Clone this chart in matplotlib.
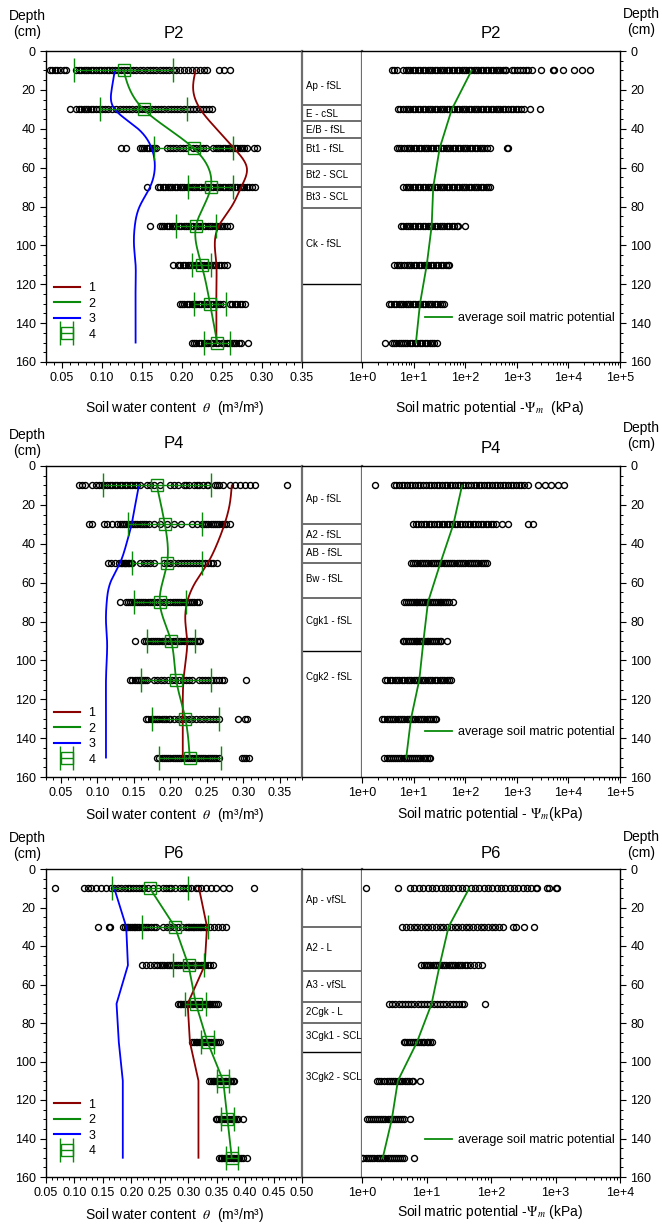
import numpy as np
import matplotlib
matplotlib.use("Agg")
import matplotlib.pyplot as plt
from matplotlib.ticker import MultipleLocator, LogLocator, FuncFormatter, NullFormatter, FormatStrFormatter
from matplotlib.lines import Line2D

plt.rcParams['font.family'] = ['Liberation Sans', 'DejaVu Sans']
plt.rcParams['mathtext.fontset'] = 'stix'

# ---------------------------------------------------------------- data
depths = [10, 30, 50, 70, 90, 110, 130, 150]
fine_depths = [10, 20, 30, 40, 50, 60, 70, 80, 90, 100, 110, 120, 130, 140, 150]

# ---- P2
p2_theta_obs = [
    [0.035, 0.038, 0.041, 0.044, 0.048, 0.052, 0.055, 0.068, 0.071, 0.074, 0.077, 0.080, 0.083, 0.086,
     0.089, 0.092, 0.096, 0.099, 0.102, 0.106, 0.109, 0.113, 0.116, 0.120, 0.124, 0.128, 0.131, 0.135,
     0.139, 0.143, 0.147, 0.151, 0.156, 0.160, 0.164, 0.168, 0.172, 0.176, 0.180, 0.184, 0.189, 0.193,
     0.198, 0.203, 0.208, 0.213, 0.218, 0.223, 0.227, 0.231, 0.246, 0.253, 0.260],
    [0.060, 0.068, 0.071, 0.074, 0.077, 0.080, 0.083, 0.086, 0.089, 0.092, 0.096, 0.100, 0.104, 0.108,
     0.113, 0.118, 0.122, 0.126, 0.130, 0.134, 0.138, 0.142, 0.146, 0.150, 0.154, 0.158, 0.162, 0.166,
     0.170, 0.174, 0.178, 0.182, 0.186, 0.190, 0.194, 0.198, 0.202, 0.206, 0.210, 0.214, 0.218, 0.222,
     0.226, 0.230, 0.234, 0.237],
    [0.124, 0.130, 0.147, 0.150, 0.153, 0.156, 0.159, 0.162, 0.165, 0.168, 0.181, 0.185, 0.189, 0.193,
     0.197, 0.201, 0.205, 0.214, 0.218, 0.222, 0.226, 0.230, 0.239, 0.242, 0.245, 0.248, 0.251, 0.254,
     0.257, 0.260, 0.263, 0.266, 0.269, 0.272, 0.275, 0.278, 0.281, 0.290, 0.294],
    [0.156, 0.170, 0.173, 0.176, 0.179, 0.182, 0.185, 0.188, 0.191, 0.194, 0.197, 0.200, 0.203, 0.206,
     0.209, 0.212, 0.215, 0.218, 0.221, 0.224, 0.227, 0.230, 0.233, 0.236, 0.239, 0.242, 0.245, 0.248,
     0.251, 0.254, 0.257, 0.260, 0.263, 0.266, 0.269, 0.272, 0.275, 0.278, 0.281, 0.284, 0.287, 0.291],
    [0.160, 0.172, 0.175, 0.178, 0.181, 0.184, 0.187, 0.190, 0.193, 0.196, 0.199, 0.202, 0.205, 0.208,
     0.211, 0.214, 0.217, 0.220, 0.223, 0.226, 0.229, 0.232, 0.235, 0.238, 0.241, 0.244, 0.247, 0.250,
     0.253, 0.256, 0.260],
    [0.189, 0.195, 0.198, 0.201, 0.204, 0.207, 0.210, 0.213, 0.216, 0.219, 0.222, 0.225, 0.228, 0.231,
     0.234, 0.237, 0.240, 0.243, 0.246, 0.249, 0.252, 0.256],
    [0.197, 0.200, 0.203, 0.206, 0.209, 0.212, 0.215, 0.218, 0.221, 0.224, 0.227, 0.230, 0.233, 0.236,
     0.239, 0.242, 0.245, 0.248, 0.251, 0.260, 0.263, 0.266, 0.269, 0.272, 0.275, 0.279],
    [0.212, 0.215, 0.218, 0.221, 0.224, 0.227, 0.230, 0.233, 0.236, 0.239, 0.242, 0.245, 0.250, 0.253,
     0.256, 0.259, 0.262, 0.265, 0.268, 0.271, 0.274, 0.283],
]
p2_theta_mean = [0.127, 0.152, 0.2145, 0.236, 0.2175, 0.2245, 0.235, 0.244]
p2_theta_sd = [0.062, 0.054, 0.0495, 0.028, 0.0255, 0.0115, 0.020, 0.016]
p2_curve1 = [0.217, 0.214, 0.223, 0.243, 0.265, 0.281, 0.274, 0.262, 0.246, 0.241, 0.243, 0.243, 0.243, 0.243, 0.243]
p2_curve3 = [0.116, 0.112, 0.116, 0.145, 0.162, 0.166, 0.160, 0.147, 0.141, 0.140, 0.142, 0.142, 0.142, 0.142, 0.142]
p2_psi_obs = [
    [3.8, 4.2, 4.7, 6.3, 7.0, 7.8, 8.7, 9.7, 10.8, 12, 13.4, 15, 16.7, 18.6, 20.7, 23, 25.7, 28.6, 32,
     35.6, 39.7, 44, 49, 55, 61, 68, 76, 85, 94, 105, 117, 131, 146, 162, 181, 202, 225, 250, 280, 310,
     350, 390, 430, 480, 540, 600, 630, 800, 900, 1000, 1150, 1300, 1500, 1650, 1950, 3000, 5100, 5200,
     7900, 12600, 18000, 26300],
    [5.0, 5.5, 6.2, 7.0, 7.8, 8.7, 9.7, 10.8, 12, 13.4, 15, 16.7, 18.6, 20.7, 23, 25.7, 28.6, 32, 35.6,
     39.7, 44, 49, 55, 61, 68, 76, 85, 94, 105, 117, 131, 146, 162, 181, 202, 225, 250, 280, 310, 350,
     390, 430, 480, 540, 600, 680, 760, 850, 950, 1060, 1200, 1350, 1820, 2820],
    [4.7, 5.2, 5.8, 6.5, 7.3, 8.1, 9.0, 10, 11.2, 12.5, 14, 15.6, 17.4, 19.4, 21.6, 24, 27, 30, 33.5,
     37.3, 41.6, 46.4, 51.7, 57.6, 64.2, 71.6, 79.8, 89, 99, 110, 123, 137, 153, 170, 190, 212, 236, 263,
     300, 650, 670],
    [6.3, 7.0, 7.8, 8.7, 9.7, 10.8, 12, 13.4, 15, 16.7, 18.6, 20.7, 23, 25.7, 28.6, 32, 35.6, 39.7, 44,
     49, 55, 61, 68, 76, 85, 94, 105, 117, 131, 146, 162, 181, 202, 225, 250, 280, 300],
    [5.7, 6.3, 7.0, 7.8, 8.7, 9.7, 10.8, 12, 13.4, 15, 16.7, 18.6, 20.7, 23, 25.7, 28.6, 32, 35.6, 39.7,
     44, 49, 55, 61, 68, 74, 100],
    [4.2, 4.7, 5.2, 5.8, 6.5, 7.3, 8.1, 9.0, 10, 11.2, 12.5, 14, 15.6, 17.4, 19.4, 21.6, 24, 27, 30,
     33.5, 37.3, 41.6, 46.4, 49],
    [3.3, 3.7, 4.1, 4.6, 5.1, 5.7, 6.3, 7.0, 7.8, 8.7, 9.7, 10.8, 12, 13.4, 15, 16.7, 18.6, 20.7, 23,
     25.7, 28.6, 32, 35.6, 38],
    [2.8, 3.8, 4.2, 4.6, 5.1, 5.6, 6.2, 6.8, 7.6, 8.5, 9.5, 10.6, 11.8, 13.2, 14.7, 16.4, 18.3, 20.4,
     22.8, 25.4, 28],
]
p2_psi_mean = [133, 55, 32, 24, 22.4, 18, 13.3, 11.1]
p2_horizon_bounds = [28, 36, 45, 58, 70, 81, 120]
p2_horizon_names = ["Ap - fSL", "E - cSL", "E/B - fSL", "Bt1 - fSL", "Bt2 - SCL", "Bt3 - SCL", "Ck - fSL"]
p2_horizon_label_depth = [18, 32.4, 40.6, 50.4, 63.8, 75.3, 99.5]

# ---- P4
p4_theta_obs = [
    [0.075, 0.0795, 0.084, 0.093, 0.098, 0.102, 0.106, 0.109, 0.114, 0.117, 0.120, 0.124, 0.127, 0.131,
     0.134, 0.138, 0.141, 0.145, 0.148, 0.152, 0.155, 0.159, 0.168, 0.172, 0.177, 0.186, 0.200, 0.205,
     0.211, 0.218, 0.222, 0.225, 0.232, 0.236, 0.239, 0.245, 0.250, 0.252, 0.261, 0.264, 0.266, 0.272,
     0.282, 0.289, 0.295, 0.302, 0.309, 0.316, 0.359],
    [0.089, 0.093, 0.109, 0.114, 0.120, 0.127, 0.131, 0.134, 0.137, 0.140, 0.143, 0.146, 0.149, 0.152,
     0.155, 0.158, 0.161, 0.164, 0.167, 0.171, 0.177, 0.186, 0.195, 0.205, 0.214, 0.230, 0.236, 0.243,
     0.246, 0.249, 0.252, 0.255, 0.258, 0.261, 0.264, 0.267, 0.270, 0.273, 0.276, 0.282],
    [0.115, 0.119, 0.125, 0.130, 0.132, 0.134, 0.136, 0.138, 0.140, 0.142, 0.144, 0.146, 0.148, 0.159,
     0.164, 0.168, 0.172, 0.177, 0.191, 0.195, 0.200, 0.205, 0.211, 0.215, 0.219, 0.223, 0.227, 0.231,
     0.235, 0.239, 0.243, 0.247, 0.251, 0.255, 0.259, 0.264],
    [0.131, 0.139, 0.142, 0.145, 0.148, 0.151, 0.154, 0.157, 0.160, 0.163, 0.166, 0.169, 0.172, 0.175,
     0.178, 0.182, 0.186, 0.191, 0.196, 0.200, 0.203, 0.206, 0.209, 0.212, 0.215, 0.218, 0.221, 0.224,
     0.227, 0.230, 0.233, 0.236, 0.239],
    [0.152, 0.164, 0.167, 0.170, 0.173, 0.176, 0.179, 0.182, 0.185, 0.188, 0.191, 0.194, 0.197, 0.200,
     0.203, 0.206, 0.209, 0.212, 0.215, 0.218, 0.221, 0.224, 0.227, 0.230, 0.233, 0.236, 0.239, 0.241],
    [0.145, 0.148, 0.151, 0.154, 0.157, 0.160, 0.163, 0.166, 0.168, 0.177, 0.182, 0.187, 0.192, 0.197,
     0.202, 0.207, 0.212, 0.217, 0.222, 0.226, 0.230, 0.239, 0.243, 0.247, 0.251, 0.255, 0.259, 0.263,
     0.267, 0.270, 0.273, 0.304],
    [0.167, 0.170, 0.173, 0.176, 0.179, 0.182, 0.185, 0.188, 0.191, 0.194, 0.198, 0.200, 0.205, 0.210,
     0.215, 0.220, 0.225, 0.230, 0.235, 0.240, 0.245, 0.250, 0.254, 0.258, 0.262, 0.266, 0.293, 0.302,
     0.305],
    [0.182, 0.185, 0.188, 0.191, 0.194, 0.197, 0.200, 0.203, 0.206, 0.209, 0.212, 0.215, 0.218, 0.221,
     0.224, 0.227, 0.230, 0.233, 0.236, 0.239, 0.242, 0.245, 0.248, 0.251, 0.254, 0.257, 0.260, 0.263,
     0.266, 0.298, 0.301, 0.304, 0.307],
]
p4_theta_mean = [0.1815, 0.1925, 0.1955, 0.1855, 0.201, 0.208, 0.2205, 0.2265]
p4_theta_sd = [0.0735, 0.0505, 0.0475, 0.0355, 0.033, 0.048, 0.0455, 0.0425]
p4_curve1 = [0.284, 0.281, 0.274, 0.264, 0.251, 0.234, 0.223, 0.2205, 0.223, 0.221, 0.218, 0.217, 0.217, 0.217, 0.217]
p4_curve3 = [0.157, 0.152, 0.147, 0.140, 0.131, 0.118, 0.113, 0.112, 0.1135, 0.113, 0.112, 0.112, 0.112, 0.112, 0.112]
p4_psi_obs = [
    [1.8, 4.1, 4.6, 5.2, 5.9, 6.6, 7.5, 8.4, 9.5, 10.7, 12, 13.5, 15.3, 17.2, 19.5, 22, 25, 28, 31.5,
     35.5, 40, 45, 50, 56, 63, 71, 80, 90, 101, 114, 128, 145, 163, 183, 206, 232, 262, 295, 332, 374,
     421, 474, 534, 601, 677, 762, 858, 966, 1090, 1230, 1400, 1620, 2630, 3470, 4680, 6170, 8130],
    [9.8, 11, 12.4, 13.9, 15.6, 17.5, 19.7, 22, 24.8, 27.8, 31.2, 35, 39.3, 44, 49.5, 55.5, 62.3, 70,
     78.5, 88, 99, 111, 125, 140, 157, 176, 198, 222, 249, 280, 314, 352, 395, 520, 690, 1620, 2040],
    [8.9, 9.8, 10.8, 11.9, 13.1, 14.4, 15.9, 17.5, 19.3, 21.3, 23.5, 25.9, 28.5, 31.4, 34.6, 38.1, 42,
     46.3, 51, 56.2, 62, 68.3, 75.3, 83, 91.5, 101, 111, 122, 135, 148, 164, 180, 199, 219, 241, 270],
    [6.6, 7.2, 7.8, 8.5, 9.2, 10, 10.9, 11.8, 12.8, 13.9, 15.1, 16.4, 17.8, 19.4, 21, 22.9, 24.8, 27,
     29.3, 31.8, 34.6, 37.5, 40.8, 44.3, 48.1, 59],
    [6.1, 6.6, 7.2, 7.8, 8.5, 9.2, 10, 10.9, 11.8, 12.8, 13.9, 15.1, 16.4, 17.8, 19.4, 21, 22.9, 24.8,
     27, 29.3, 31.8, 34.6, 45],
    [2.8, 3.1, 3.5, 3.9, 4.3, 4.8, 5.3, 5.9, 6.6, 7.3, 8.1, 9.0, 10, 11.1, 12.3, 13.7, 15.2, 16.9, 18.8,
     20.9, 23.2, 25.8, 28.6, 31.8, 35.3, 39.2, 43.5, 48.3, 54],
    [2.4, 2.7, 3.0, 3.3, 3.6, 4.0, 4.4, 4.9, 5.4, 6.0, 6.6, 7.3, 8.1, 8.9, 9.8, 10.8, 12, 13.2, 14.6,
     16.1, 17.8, 19.6, 21.7, 23.9, 26.4, 27.5],
    [2.7, 3.0, 3.3, 3.6, 4.0, 4.4, 4.8, 5.3, 5.8, 6.4, 7.0, 7.7, 8.5, 9.3, 10.2, 11.2, 12.3, 13.5, 14.9,
     16.4, 18, 19.8, 21],
]
p4_psi_mean = [87, 59, 33, 19, 15.5, 12.9, 8.9, 7.2]
p4_horizon_bounds = [30, 40, 50, 68, 95]
p4_horizon_names = ["Ap - fSL", "A2 - fSL", "AB - fSL", "Bw - fSL", "Cgk1 - fSL", "Cgk2 - fSL"]
p4_horizon_label_depth = [17, 35.5, 44.7, 58.3, 79.7, 108.5]

# ---- P6
p6_theta_obs = [
    [0.065, 0.117, 0.123, 0.129, 0.138, 0.147, 0.156, 0.164, 0.170, 0.176, 0.182, 0.188, 0.194, 0.198,
     0.203, 0.208, 0.214, 0.218, 0.223, 0.229, 0.238, 0.247, 0.255, 0.261, 0.266, 0.270, 0.276, 0.285,
     0.291, 0.296, 0.300, 0.305, 0.314, 0.318, 0.323, 0.332, 0.340, 0.349, 0.361, 0.372, 0.416],
    [0.141, 0.160, 0.162, 0.186, 0.189, 0.192, 0.195, 0.198, 0.201, 0.204, 0.207, 0.210, 0.214, 0.218,
     0.222, 0.226, 0.230, 0.235, 0.240, 0.244, 0.255, 0.262, 0.268, 0.275, 0.282, 0.289, 0.296, 0.299,
     0.302, 0.305, 0.308, 0.311, 0.314, 0.317, 0.320, 0.323, 0.326, 0.329, 0.332, 0.338, 0.345, 0.352,
     0.359, 0.367],
    [0.219, 0.226, 0.233, 0.239, 0.245, 0.250, 0.254, 0.258, 0.262, 0.266, 0.270, 0.274, 0.278, 0.282,
     0.286, 0.290, 0.294, 0.298, 0.302, 0.306, 0.310, 0.314, 0.318, 0.322, 0.326, 0.330, 0.334, 0.338,
     0.343],
    [0.282, 0.285, 0.288, 0.291, 0.294, 0.297, 0.300, 0.303, 0.306, 0.309, 0.312, 0.315, 0.318, 0.321,
     0.324, 0.327, 0.330, 0.333, 0.336, 0.339, 0.342, 0.345, 0.348, 0.352],
    [0.307, 0.310, 0.313, 0.316, 0.319, 0.322, 0.325, 0.328, 0.331, 0.334, 0.337, 0.340, 0.343, 0.346,
     0.349, 0.352, 0.356],
    [0.337, 0.340, 0.343, 0.346, 0.349, 0.352, 0.355, 0.358, 0.361, 0.364, 0.367, 0.370, 0.373, 0.376,
     0.379, 0.381],
    [0.348, 0.351, 0.354, 0.357, 0.360, 0.363, 0.366, 0.369, 0.372, 0.375, 0.378, 0.381, 0.384, 0.387,
     0.396],
    [0.354, 0.357, 0.360, 0.363, 0.366, 0.369, 0.372, 0.375, 0.378, 0.381, 0.384, 0.387, 0.390, 0.393,
     0.396, 0.403],
]
p6_theta_mean = [0.2325, 0.2765, 0.3005, 0.3135, 0.334, 0.3615, 0.369, 0.3765]
p6_theta_sd = [0.0665, 0.0585, 0.0265, 0.0185, 0.011, 0.0105, 0.011, 0.0105]
p6_curve1 = [0.319, 0.333, 0.329, 0.299, 0.303, 0.318, 0.318, 0.318]
p6_curve3 = [0.170, 0.191, 0.194, 0.174, 0.178, 0.185, 0.185, 0.185]
p6_psi_obs = [
    [1.15, 3.6, 5.6, 6.5, 7.6, 8.9, 10.4, 12.1, 14.1, 16.5, 19.2, 22.4, 26.2, 30.5, 35.6, 41.5, 48.4,
     56.5, 65.9, 76.9, 89.7, 105, 122, 142, 166, 194, 226, 264, 308, 359, 420, 500, 520, 730, 800, 1000,
     1070],
    [4.2, 4.8, 5.5, 6.3, 7.2, 8.2, 9.4, 10.7, 12.2, 14, 16, 18.2, 20.8, 23.8, 27.2, 31, 35.5, 40.5,
     46.3, 52.9, 60.4, 69, 78.8, 90, 103, 117, 134, 153, 220, 240, 330, 465],
    [8.3, 9.0, 9.8, 10.6, 11.5, 12.5, 13.5, 14.7, 15.9, 17.3, 18.7, 20.3, 22, 23.9, 25.9, 28.1, 30.5,
     33.1, 35.9, 39, 43, 48, 55, 62, 72],
    [2.6, 2.9, 3.3, 3.7, 4.1, 4.6, 5.2, 5.8, 6.5, 7.3, 8.2, 9.2, 10.3, 11.5, 12.9, 14.5, 16.2, 18.2,
     20.4, 22.8, 25.6, 28.7, 32.1, 36, 38, 81],
    [4.4, 4.7, 5.0, 5.4, 5.8, 6.2, 6.6, 7.1, 7.6, 8.1, 8.7, 9.3, 10, 10.7, 11.5, 12],
    [1.7, 1.85, 2.0, 2.2, 2.4, 2.6, 2.8, 3.0, 3.3, 3.6, 3.9, 4.2, 4.6, 5.0, 5.4, 5.9, 6.1, 7.9],
    [1.2, 1.3, 1.4, 1.5, 1.6, 1.7, 1.85, 2.0, 2.15, 2.3, 2.5, 2.7, 2.9, 3.1, 3.35, 3.6, 3.9, 4.2, 4.5,
     5.6],
    [1.0, 1.05, 1.15, 1.25, 1.35, 1.45, 1.55, 1.7, 1.85, 2.0, 2.15, 2.3, 2.5, 2.7, 2.9, 3.1, 3.35, 3.6,
     3.9, 4.2, 4.5, 6.4],
]
p6_psi_mean = [46, 22, 16, 12, 7.1, 3.6, 2.9, 2.1]
p6_horizon_bounds = [30, 53, 69, 80, 95]
p6_horizon_names = ["Ap - vfSL", "A2 - L", "A3 - vfSL", "2Cgk - L", "3Cgk1 - SCL", "3Cgk2 - SCL"]
p6_horizon_label_depth = [16, 40.9, 60.4, 74.5, 86.6, 107.9]

theta_ticks = [0.05, 0.10, 0.15, 0.20, 0.25, 0.30, 0.35, 0.40, 0.45, 0.50]
legend_labels = ["1", "2", "3", "4"]
depth_ticks = [0, 20, 40, 60, 80, 100, 120, 140, 160]

# ---------------------------------------------------------------- style
RED = "#8b0000"
GREEN = "#0a8a0a"
BLUE = "#0000ff"
GRID_GRAY = "#6e6e6e"

W, H = 662, 1226
fig = plt.figure(figsize=(W / 100, H / 100), dpi=100)


def fig_rect(x0, x1, top, bottom):
    return [x0 / W, 1 - bottom / H, (x1 - x0) / W, (bottom - top) / H]


def natural_spline(xk, yk, xs):
    """Natural cubic spline through (xk, yk), evaluated at xs."""
    xk = np.asarray(xk, float)
    yk = np.asarray(yk, float)
    n = len(xk)
    h = np.diff(xk)
    A = np.zeros((n, n))
    r = np.zeros(n)
    A[0, 0] = A[-1, -1] = 1.0
    for i in range(1, n - 1):
        A[i, i - 1] = h[i - 1]
        A[i, i] = 2 * (h[i - 1] + h[i])
        A[i, i + 1] = h[i]
        r[i] = 3 * ((yk[i + 1] - yk[i]) / h[i] - (yk[i] - yk[i - 1]) / h[i - 1])
    c = np.linalg.solve(A, r)
    b = (yk[1:] - yk[:-1]) / h - h * (2 * c[:-1] + c[1:]) / 3
    d = (c[1:] - c[:-1]) / (3 * h)
    idx = np.clip(np.searchsorted(xk, xs) - 1, 0, n - 2)
    dx = xs - xk[idx]
    return yk[idx] + b[idx] * dx + c[idx] * dx ** 2 + d[idx] * dx ** 3


def style_depth_axis(ax):
    ax.set_ylim(160, 0)
    ax.yaxis.set_major_locator(MultipleLocator(20))
    ax.yaxis.set_minor_locator(MultipleLocator(5))
    ax.tick_params(axis="both", which="major", direction="out", length=4, width=0.8, labelsize=9)
    ax.tick_params(axis="both", which="minor", direction="out", length=2.2, width=0.7)


profiles = [
    dict(name="P2", top=51, bottom=362, xlim=(0.03, 0.35), psi_max=1e5, smooth=True,
         theta_obs=p2_theta_obs, mean=p2_theta_mean, sd=p2_theta_sd, c1=p2_curve1, c3=p2_curve3,
         psi_obs=p2_psi_obs, psi_mean=p2_psi_mean, bounds=p2_horizon_bounds, names=p2_horizon_names,
         label_depth=p2_horizon_label_depth,
         depth_y=(24, 22), title_y=(34, 34), xlabel_y=(408, 408),
         xlabel_r=r"Soil matric potential -$\mathit{\Psi}_m$  (kPa)",
         leg_y=0.045, leg2_y=0.14),
    dict(name="P4", top=466, bottom=777, xlim=(0.03, 0.38), psi_max=1e5, smooth=True,
         theta_obs=p4_theta_obs, mean=p4_theta_mean, sd=p4_theta_sd, c1=p4_curve1, c3=p4_curve3,
         psi_obs=p4_psi_obs, psi_mean=p4_psi_mean, bounds=p4_horizon_bounds, names=p4_horizon_names,
         label_depth=p4_horizon_label_depth,
         depth_y=(443, 436), title_y=(444, 449), xlabel_y=(815, 814),
         xlabel_r=r"Soil matric potential - $\mathit{\Psi}_m$(kPa)",
         leg_y=0.012, leg2_y=0.144),
    dict(name="P6", top=869, bottom=1177, xlim=(0.05, 0.50), psi_max=1e4, smooth=False,
         theta_obs=p6_theta_obs, mean=p6_theta_mean, sd=p6_theta_sd, c1=p6_curve1, c3=p6_curve3,
         psi_obs=p6_psi_obs, psi_mean=p6_psi_mean, bounds=p6_horizon_bounds, names=p6_horizon_names,
         label_depth=p6_horizon_label_depth,
         depth_y=(846, 845), title_y=(853, 853), xlabel_y=(1215, 1212),
         xlabel_r=r"Soil matric potential -$\mathit{\Psi}_m$ (kPa)",
         leg_y=0.04, leg2_y=0.12),
]

XL0, XL1, XR0, XR1 = 46, 302, 362, 620
OBS_STYLE = dict(linestyle="none", marker="o", ms=4.3, mfc="none", mec="black", mew=1.0, zorder=2)

for p in profiles:
    top, bottom = p["top"], p["bottom"]
    ax_t = fig.add_axes(fig_rect(XL0, XL1, top, bottom))
    ax_h = fig.add_axes(fig_rect(XL1, XR0, top, bottom))
    ax_p = fig.add_axes(fig_rect(XR0, XR1, top, bottom))

    # ---- soil water content panel
    for d, vals in zip(depths, p["theta_obs"]):
        ax_t.plot(vals, [d] * len(vals), **OBS_STYLE)
    if p["smooth"]:
        yy = np.linspace(10, 150, 300)
        x1 = natural_spline(fine_depths, p["c1"], yy)
        x3 = natural_spline(fine_depths, p["c3"], yy)
        x2 = natural_spline(depths, p["mean"], yy)
    else:
        yy = np.asarray(depths, float)
        x1, x3, x2 = p["c1"], p["c3"], p["mean"]
    ax_t.plot(x1, yy, color=RED, lw=1.3, zorder=3)
    ax_t.plot(x2, yy, color=GREEN, lw=1.3, zorder=3)
    ax_t.plot(x3, yy, color=BLUE, lw=1.3, zorder=3)
    eb = ax_t.errorbar(p["mean"], depths, xerr=p["sd"], fmt="s", ms=9, mfc="none", mec=GREEN,
                       mew=1.0, ecolor=GREEN, elinewidth=1.0, capsize=8.5, capthick=1.0, zorder=4)

    handles = [Line2D([], [], color=RED, lw=1.5), Line2D([], [], color=GREEN, lw=1.5),
               Line2D([], [], color=BLUE, lw=1.5), eb]
    ax_t.legend(handles, legend_labels, loc="lower left", bbox_to_anchor=(0.0, p["leg_y"]),
                frameon=False, fontsize=9, handlelength=2.1, handletextpad=0.7,
                labelspacing=0.28, borderaxespad=0.3, borderpad=0.3)

    ax_t.set_xlim(*p["xlim"])
    style_depth_axis(ax_t)
    ax_t.set_xticks([t for t in theta_ticks if p["xlim"][0] <= t <= p["xlim"][1] + 1e-9])
    ax_t.xaxis.set_minor_locator(MultipleLocator(0.01))
    ax_t.xaxis.set_major_formatter(FormatStrFormatter("%.2f"))
    ax_t.set_yticks(depth_ticks)
    ax_t.spines["right"].set_visible(False)
    for s in ("left", "top", "bottom"):
        ax_t.spines[s].set_linewidth(1.0)

    # ---- soil horizon column
    ax_h.set_xlim(0, 1)
    ax_h.set_ylim(160, 0)
    ax_h.set_xticks([])
    ax_h.set_yticks([])
    for s in ("left", "right"):
        ax_h.spines[s].set_color(GRID_GRAY)
        ax_h.spines[s].set_linewidth(1.6)
    for s in ("top", "bottom"):
        ax_h.spines[s].set_linewidth(1.0)
    for i, b in enumerate(p["bounds"]):
        last = i == len(p["bounds"]) - 1
        ax_h.axhline(b, color="black" if last else GRID_GRAY, lw=1.0 if last else 1.4)
    for name, ld in zip(p["names"], p["label_depth"]):
        ax_h.text(0.065, ld, name, fontsize=7, ha="left", va="center")

    # ---- soil matric potential panel
    for d, vals in zip(depths, p["psi_obs"]):
        ax_p.plot(vals, [d] * len(vals), **OBS_STYLE)
    avg_line, = ax_p.plot(p["psi_mean"], depths, color=GREEN, lw=1.3, zorder=3)
    ax_p.set_xscale("log")
    ax_p.set_xlim(1, p["psi_max"])
    style_depth_axis(ax_p)
    ax_p.xaxis.set_major_locator(LogLocator(base=10, numticks=10))
    ax_p.xaxis.set_minor_locator(LogLocator(base=10, subs=np.arange(2, 10), numticks=20))
    ax_p.xaxis.set_minor_formatter(NullFormatter())
    ax_p.xaxis.set_major_formatter(FuncFormatter(lambda v, pos: "1e+%d" % int(round(np.log10(v)))))
    ax_p.set_yticks(depth_ticks)
    ax_p.yaxis.tick_right()
    ax_p.yaxis.set_label_position("right")
    ax_p.spines["left"].set_visible(False)
    for s in ("right", "top", "bottom"):
        ax_p.spines[s].set_linewidth(1.0)
    ax_p.legend([avg_line], ["average soil matric potential"], loc="center right",
                bbox_to_anchor=(1.0, p["leg2_y"]), frameon=False, fontsize=9,
                handlelength=2.2, handletextpad=0.5, borderaxespad=0.1, borderpad=0.3)

    # ---- annotations
    ly, ry = p["depth_y"]
    fig.text(27 / W, 1 - ly / H, "Depth\n(cm)", fontsize=10, ha="center", va="center",
             multialignment="center", linespacing=1.15)
    fig.text(641 / W, 1 - ry / H, "Depth\n(cm)", fontsize=10, ha="center", va="center",
             multialignment="center", linespacing=1.15)
    tl, tr = p["title_y"]
    fig.text((XL0 + XL1) / 2 / W, 1 - tl / H, p["name"], fontsize=12, ha="center", va="center")
    fig.text((XR0 + XR1) / 2 / W, 1 - tr / H, p["name"], fontsize=12, ha="center", va="center")
    xl, xr = p["xlabel_y"]
    fig.text(174 / W, 1 - xl / H, r"Soil water content  $\theta$  (m³/m³)", fontsize=10,
             ha="center", va="center")
    fig.text(490 / W, 1 - xr / H, p["xlabel_r"], fontsize=10, ha="center", va="center")

fig.savefig("out.png", dpi=100)
